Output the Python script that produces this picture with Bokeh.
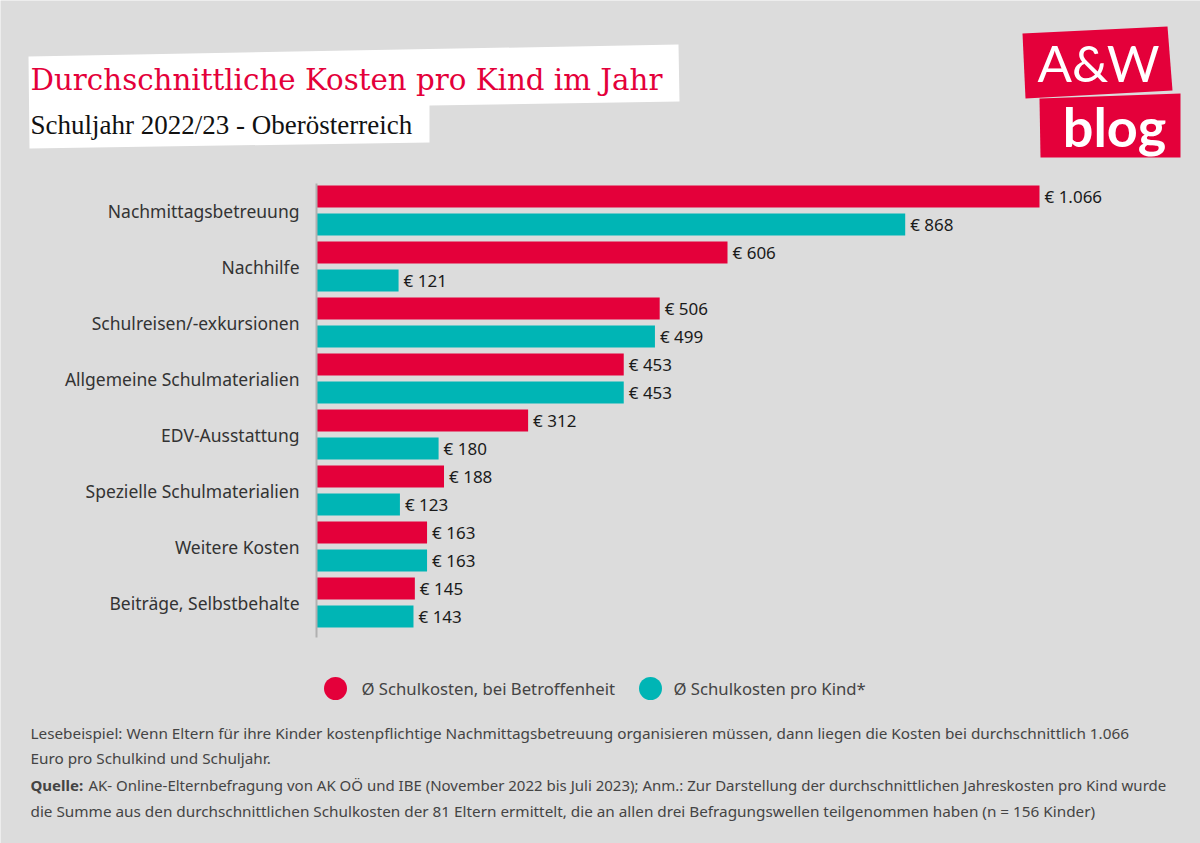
from bokeh.plotting import figure
from bokeh.models import Range1d, ColumnDataSource
from bokeh.transform import dodge
from bokeh.core.properties import value
from bokeh.embed import file_html
from bokeh.resources import INLINE

# ---------------- data ----------------
categories = ["Nachmittagsbetreuung", "Nachhilfe", "Schulreisen/-exkursionen",
              "Allgemeine Schulmaterialien", "EDV-Ausstattung",
              "Spezielle Schulmaterialien", "Weitere Kosten", "Beiträge, Selbstbehalte"]
betroffen = [1066, 606, 506, 453, 312, 188, 163, 145]
pro_kind = [868, 121, 499, 453, 180, 123, 163, 143]
series_names = ["Ø Schulkosten, bei Betroffenheit", "Ø Schulkosten pro Kind*"]

title = "Durchschnittliche Kosten pro Kind im Jahr"
subtitle = "Schuljahr 2022/23 - Oberösterreich"
footer_lines = [
    "Lesebeispiel: Wenn Eltern für ihre Kinder kostenpflichtige Nachmittagsbetreuung organisieren müssen, dann liegen die Kosten bei durchschnittlich 1.066",
    "Euro pro Schulkind und Schuljahr.",
    "AK- Online-Elternbefragung von AK OÖ und IBE (November 2022 bis Juli 2023); Anm.: Zur Darstellung der durchschnittlichen Jahreskosten pro Kind wurde",
    "die Summe aus den durchschnittlichen Schulkosten der 81 Eltern ermittelt, die an allen drei Befragungswellen teilgenommen haben (n = 156 Kinder)",
]

RED = "#e4003a"
TEAL = "#00b5b5"
BG = "#dcdcdc"
W, H = 1200, 843

def euro(v):
    return "€ " + f"{v:,}".replace(",", ".")

# ---------------- figure ----------------
AXIS_PX = 316.0          # pixel position of value 0
K = 723.0 / 1066.0       # pixels per euro
GROUP_PX = 56.0          # pixels per category group
TOP_PX = 210.0           # pixel centre of first group

p = figure(width=W, height=H, output_backend="svg", toolbar_location=None,
           x_range=Range1d(-AXIS_PX / K, (W - AXIS_PX) / K),
           y_range=Range1d((H - TOP_PX) / GROUP_PX, -TOP_PX / GROUP_PX),
           x_axis_location=None, y_axis_location=None,
           min_border=0, outline_line_color=None,
           background_fill_color=BG, border_fill_color=BG)
p.xgrid.visible = False
p.ygrid.visible = False
p.extra_x_ranges = {"px": Range1d(0, W)}
p.extra_y_ranges = {"px": Range1d(H, 0)}
PX = dict(x_range_name="px", y_range_name="px")

# ---------------- header ----------------
p.patch(x=[28, 678, 679, 429, 429, 29], y=[56, 44, 101, 105, 142, 148],
        fill_color="white", line_color=None, **PX)
p.text(x=[30], y=[79], text=[title], text_font=value("DejaVu Serif"),
       text_font_size="29.3px", text_color=RED, text_baseline="middle", **PX)
p.text(x=[30], y=[124], text=[subtitle], text_font=value("Liberation Serif"),
       text_font_size="27px", text_color="#111111", text_baseline="middle", **PX)

# logo
p.patch(x=[1022, 1167, 1172, 1025], y=[33, 26, 90, 98],
        fill_color=RED, line_color=None, **PX)
p.patch(x=[1039, 1180, 1180, 1040], y=[98, 93, 157, 157],
        fill_color=RED, line_color=None, **PX)
p.text(x=[1098], y=[62], text=["A&W"], text_font=value("Lato"),
       text_font_size="51px", text_color="white", text_align="center",
       text_baseline="middle", **PX)
p.text(x=[1114], y=[126], text=["blog"], text_font=value("Lato"),
       text_font_size="54px", text_font_style="bold", text_color="white",
       text_align="center", text_baseline="middle", **PX)

# ---------------- bars ----------------
idx = list(range(len(categories)))
src = ColumnDataSource(dict(idx=idx, cat=categories, a=betroffen, b=pro_kind,
                            la=[euro(v) for v in betroffen],
                            lb=[euro(v) for v in pro_kind]))
bh = 22.0 / GROUP_PX
p.hbar(y=dodge("idx", -0.25), left=0, right="a", height=bh, source=src,
       fill_color=RED, line_color=None)
p.hbar(y=dodge("idx", 0.25), left=0, right="b", height=bh, source=src,
       fill_color=TEAL, line_color=None)
p.text(x="a", y=dodge("idx", -0.25), text="la", source=src, x_offset=5,
       text_font=value("Noto Sans"), text_font_size="17px", text_color="#1a1a1a",
       text_baseline="middle")
p.text(x="b", y=dodge("idx", 0.25), text="lb", source=src, x_offset=5,
       text_font=value("Noto Sans"), text_font_size="17px", text_color="#1a1a1a",
       text_baseline="middle")

# category labels (left axis)
p.text(x=[299] * len(categories), y=idx, text=categories, x_range_name="px",
       text_font=value("Noto Sans"), text_font_size="17.5px",
       text_color="#333333", text_align="right", text_baseline="middle")

# axis line
p.segment(x0=[0], x1=[0], y0=[183], y1=[637], y_range_name="px",
          line_color="#b0b0b0", line_width=2)

# ---------------- legend ----------------
p.scatter(x=[335, 650], y=[688, 688], size=23, fill_color=[RED, TEAL],
          line_color=None, **PX)
p.text(x=[361, 673], y=[688, 688], text=series_names,
       text_font=value("Noto Sans"), text_font_size="16.7px",
       text_color="#444444", text_baseline="middle", **PX)

# ---------------- footer ----------------
fy = [732, 757, 784, 810]
p.text(x=[30, 30, 30], y=[fy[0], fy[1], fy[3]],
       text=[footer_lines[0], footer_lines[1], footer_lines[3]],
       text_font=value("Noto Sans"), text_font_size="15.3px",
       text_color="#444444", text_baseline="middle", **PX)
p.text(x=[88], y=[fy[2]], text=[footer_lines[2]],
       text_font=value("Noto Sans"), text_font_size="15px",
       text_color="#444444", text_baseline="middle", **PX)
p.text(x=[30], y=[fy[2]], text=["Quelle:"], text_font=value("Noto Sans"),
       text_font_size="15px", text_font_style="bold", text_color="#444444",
       text_baseline="middle", **PX)

open("out.html", "w").write(file_html(p, INLINE))
